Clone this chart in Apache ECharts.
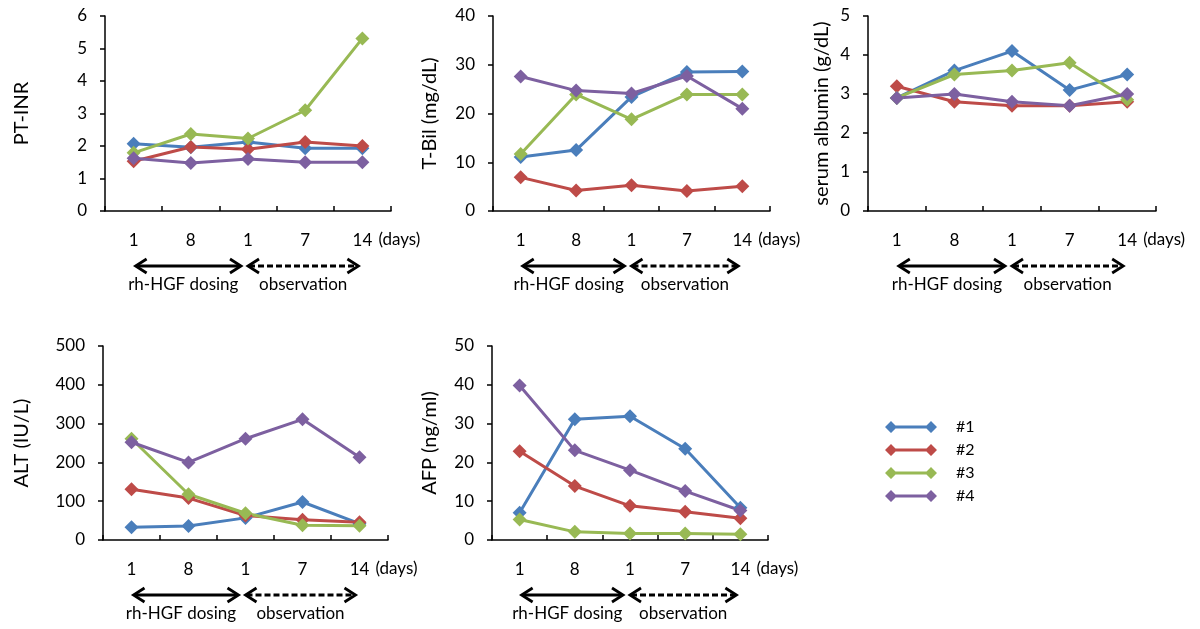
<!DOCTYPE html>
<html><head><meta charset="utf-8">
<script src="https://cdn.jsdelivr.net/npm/echarts@6/dist/echarts.min.js"></script>
<style>html,body{margin:0;padding:0;background:#fff}#c{width:1200px;height:629px}</style>
</head><body><div id="c"></div>
<script>
// Categories (day labels) and series names
const days = ['1', '8', '1', '7', '14'];
const seriesNames = ['#1', '#2', '#3', '#4'];
const colors = ['#4a7ebb', '#be4b48', '#98b954', '#7d60a0'];

// PT-INR values, one row per patient (#1..#4)
const ptInr = [
  [2.07, 1.96, 2.12, 1.93, 1.93],
  [1.53, 1.97, 1.90, 2.12, 2.00],
  [1.79, 2.37, 2.23, 3.10, 5.31],
  [1.62, 1.48, 1.60, 1.50, 1.50]
];
// T-Bil (mg/dL)
const tBil = [
  [11.1, 12.5, 23.4, 28.5, 28.6],
  [6.9, 4.2, 5.3, 4.1, 5.1],
  [11.7, 23.9, 18.8, 23.9, 23.9],
  [27.6, 24.7, 24.1, 27.7, 21.0]
];
// serum albumin (g/dL)
const albumin = [
  [2.9, 3.6, 4.1, 3.1, 3.5],
  [3.2, 2.8, 2.7, 2.7, 2.8],
  [2.9, 3.5, 3.6, 3.8, 2.85],
  [2.9, 3.0, 2.8, 2.7, 3.0]
];
// ALT (IU/L)
const alt = [
  [33, 36, 57, 98, 42],
  [131, 108, 63, 52, 46],
  [261, 118, 69, 38, 37],
  [252, 200, 261, 311, 213]
];
// AFP (ng/ml)
const afp = [
  [7.0, 31.1, 31.9, 23.5, 8.3],
  [22.9, 13.9, 8.8, 7.3, 5.6],
  [5.3, 2.1, 1.7, 1.7, 1.5],
  [39.8, 23.1, 18.0, 12.6, 7.6]
];

// Panel layout
const panels = [
  { name: 'PT-INR', data: ptInr, max: 6, interval: 1, grid: { left: 105, top: 16, width: 286, height: 195 }, nameGap: 73 },
  { name: 'T-Bil (mg/dL)', data: tBil, max: 40, interval: 10, grid: { left: 493, top: 16, width: 277, height: 195 }, nameGap: 53 },
  { name: 'serum albumin (g/dL)', data: albumin, max: 5, interval: 1, grid: { left: 868, top: 16, width: 288, height: 195 }, nameGap: 36 },
  { name: 'ALT (IU/L)', data: alt, max: 500, interval: 100, grid: { left: 103, top: 346, width: 285, height: 194 }, nameGap: 71 },
  { name: 'AFP (ng/ml)', data: afp, max: 50, interval: 10, grid: { left: 492, top: 346, width: 276, height: 194 }, nameGap: 52 }
];

const FONT = 'Lato, "Open Sans", sans-serif';
const axisLine = { show: true, lineStyle: { color: '#000', width: 1.5 } };

const grids = [], xAxes = [], yAxes = [], series = [], graphics = [];

panels.forEach((p, gi) => {
  grids.push(Object.assign({ containLabel: false }, p.grid));
  xAxes.push({
    type: 'category', gridIndex: gi, data: days, boundaryGap: true,
    axisLine: axisLine,
    axisTick: { show: true, inside: true, length: 5, lineStyle: { color: '#000', width: 1.5 } },
    axisLabel: { color: '#000', fontSize: 17, fontFamily: FONT, margin: 21, interval: 0 },
    splitLine: { show: false }
  });
  yAxes.push({
    type: 'value', gridIndex: gi, min: 0, max: p.max, interval: p.interval,
    name: p.name, nameLocation: 'middle', nameGap: p.nameGap,
    nameTextStyle: { color: '#000', fontSize: 20, fontFamily: FONT },
    axisLine: axisLine,
    axisTick: { show: true, length: 5, lineStyle: { color: '#000', width: 1.5 } },
    axisLabel: { color: '#000', fontSize: 17, fontFamily: FONT, margin: 18 },
    splitLine: { show: false }
  });
  p.data.forEach((vals, si) => {
    series.push({
      type: 'line', name: seriesNames[si], xAxisIndex: gi, yAxisIndex: gi,
      data: vals, symbol: 'diamond', symbolSize: 14,
      lineStyle: { color: colors[si], width: 3 },
      itemStyle: { color: colors[si] },
      animation: false
    });
  });

  // annotations below axis
  const g = p.grid;
  const band = g.width / days.length;
  const c = k => g.left + band * (k + 0.5);
  const axisY = g.top + g.height;
  const ay = axisY + 55, ty = axisY + 74, ly = axisY + 29;
  const head = 11, hh = 7;
  const black = { stroke: '#000', lineWidth: 2.8, fill: null };
  function arrow(x1, x2, dashed) {
    graphics.push({ type: 'line', shape: { x1: x1 + 1, y1: ay, x2: x2 - 1, y2: ay },
      style: Object.assign({}, black, dashed ? { lineDash: [6, 3] } : {}) });
    graphics.push({ type: 'polyline', shape: { points: [[x1 + head, ay - hh], [x1, ay], [x1 + head, ay + hh]] }, style: black });
    graphics.push({ type: 'polyline', shape: { points: [[x2 - head, ay - hh], [x2, ay], [x2 - head, ay + hh]] }, style: black });
  }
  const s1 = c(0) + 2, s2 = c(2) - 7, d1 = c(2), d2 = c(4) - 4;
  arrow(s1, s2, false);
  arrow(d1, d2, true);
  graphics.push({ type: 'text', x: (s1 + s2) / 2 - 5, y: ty,
    style: { text: 'rh-HGF dosing', fill: '#000', font: '17px ' + FONT, align: 'center', verticalAlign: 'middle' } });
  graphics.push({ type: 'text', x: (d1 + d2) / 2, y: ty,
    style: { text: 'observation', fill: '#000', font: '17px ' + FONT, align: 'center', verticalAlign: 'middle' } });
  graphics.push({ type: 'text', x: c(4) + 16, y: ly,
    style: { text: '(days)', fill: '#000', font: '17px ' + FONT, align: 'left', verticalAlign: 'middle' } });
});

const legendIcon = 'path://M0,6L6,0L12,6L6,12Z M40,6L46,0L52,6L46,12Z M6,4.5L46,4.5L46,7.5L6,7.5Z';

const chart = echarts.init(document.getElementById('c'), null, { renderer: 'canvas' });
chart.setOption({
  backgroundColor: '#fff',
  animation: false,
  color: colors,
  grid: grids,
  xAxis: xAxes,
  yAxis: yAxes,
  series: series,
  legend: {
    data: seriesNames.map((n, i) => ({ name: n, icon: legendIcon, itemStyle: { color: colors[i] } })),
    orient: 'vertical', left: 880, top: 414,
    itemWidth: 52, itemHeight: 12, itemGap: 7,
    textStyle: { color: '#000', fontSize: 16, fontFamily: FONT, padding: [0, 0, 0, 14] }
  },
  graphic: graphics
});
</script>
</body></html>
